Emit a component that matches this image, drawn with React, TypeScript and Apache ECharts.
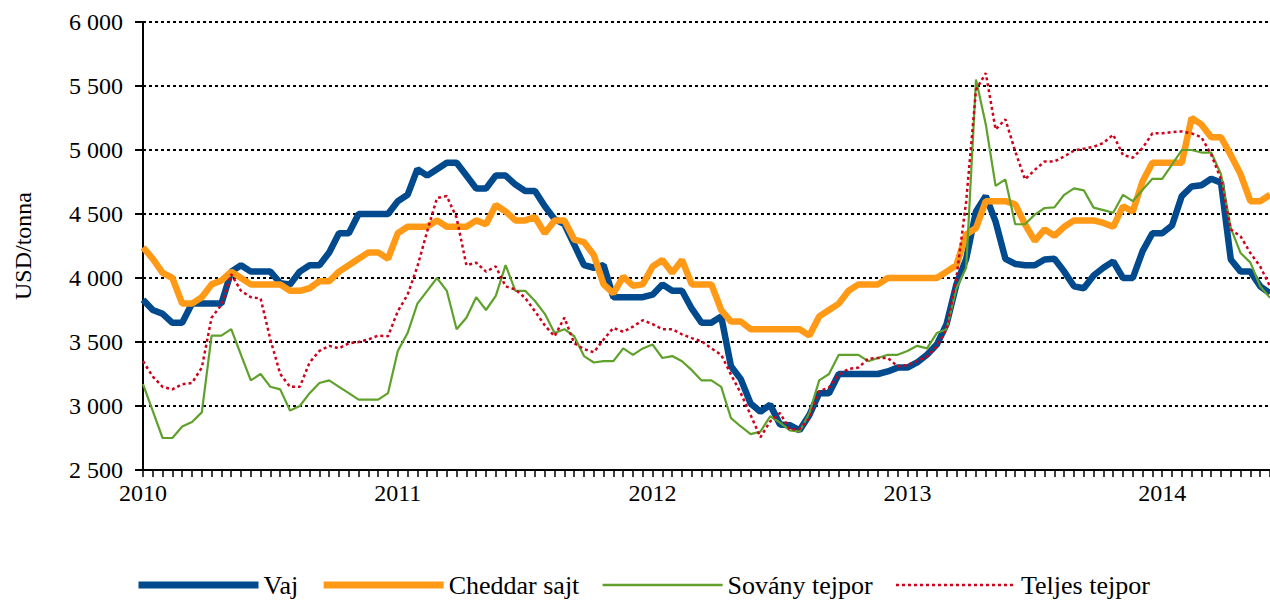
import React, { useEffect, useRef } from "react";
import * as echarts from "echarts";

const yearLabels = ["2010", "2011", "2012", "2013", "2014"];
const pointsPerYear = 26;

const seriesNames = ["Vaj", "Cheddar sajt", "Sovány tejpor", "Teljes tejpor"];

const vaj = [
  3830, 3750, 3720, 3650, 3650, 3800, 3800, 3800, 3800, 4050, 4100, 4050, 4050, 4050, 3960, 3950, 4050, 4100, 4100, 4200, 4350, 4350, 4500, 4500, 4500,
  4500, 4600, 4650, 4850, 4800, 4850, 4900, 4900, 4800, 4700, 4700, 4800, 4800, 4730, 4680, 4680, 4560, 4460, 4420, 4260, 4100, 4080, 4100, 3850, 3850,
  3850, 3850, 3870, 3950, 3900, 3900, 3760, 3650, 3650, 3700, 3310, 3210, 3020, 2955, 3010, 2855, 2850, 2810, 2930, 3100, 3100, 3250, 3250, 3250,
  3250, 3250, 3270, 3300, 3300, 3340, 3400, 3480, 3640, 3950, 4150, 4520, 4640, 4440, 4150, 4110, 4100, 4100, 4145, 4150, 4050, 3935, 3920, 4020, 4080, 4130,
  4000, 4000, 4210, 4350, 4350, 4410, 4640, 4715, 4725, 4775, 4745, 4145, 4050, 4050, 3935, 3880,
];

const cheddar = [
  4240, 4150, 4040, 4000, 3800, 3800, 3850, 3950, 3980, 4050, 4000, 3950, 3950, 3950, 3950, 3900, 3900, 3920, 3975, 3975, 4050, 4100, 4150, 4200, 4200,
  4150, 4350, 4400, 4400, 4400, 4450, 4400, 4400, 4400, 4450, 4420, 4570, 4520, 4450, 4450, 4475, 4350, 4450, 4450, 4300, 4280, 4180, 3950, 3880, 4010,
  3940, 3950, 4090, 4140, 4040, 4140, 3950, 3950, 3950, 3750, 3660, 3660, 3600, 3600, 3600, 3600, 3600, 3600, 3550, 3700, 3750, 3800, 3900, 3950,
  3950, 3950, 4000, 4000, 4000, 4000, 4000, 4000, 4050, 4100, 4340, 4390, 4600, 4600, 4600, 4575, 4420, 4290, 4380, 4330, 4400, 4450, 4450, 4450, 4430, 4400,
  4560, 4520, 4755, 4900, 4900, 4900, 4900, 5250, 5200, 5100, 5100, 4960, 4810, 4600, 4600, 4650,
];

const sovany = [
  3170, 2960, 2750, 2750, 2840, 2875, 2950, 3550, 3550, 3600, 3400, 3200, 3250, 3150, 3130, 2965, 3000, 3100, 3180, 3200, 3150, 3100, 3050, 3050, 3050,
  3100, 3430, 3570, 3800, 3900, 4000, 3900, 3600, 3690, 3850, 3750, 3860, 4100, 3900, 3900, 3820, 3720, 3570, 3600, 3545, 3390, 3340, 3350, 3350, 3450,
  3400, 3450, 3480, 3375, 3390, 3350, 3280, 3200, 3200, 3150, 2905, 2840, 2780, 2800, 2920, 2870, 2810, 2800, 2945, 3200, 3250, 3400, 3400, 3400,
  3350, 3375, 3400, 3400, 3430, 3470, 3450, 3570, 3600, 3920, 4080, 5550, 5200, 4720, 4770, 4420, 4420, 4495, 4547, 4552, 4650, 4700, 4685, 4550, 4530, 4510,
  4650, 4600, 4690, 4775, 4775, 4885, 5000, 5000, 4980, 4980, 4810, 4390, 4195, 4120, 3935, 3845,
];

const teljes = [
  3350, 3230, 3150, 3130, 3170, 3180, 3300, 3690, 3790, 4030, 3900, 3850, 3840, 3520, 3250, 3150, 3150, 3340, 3430, 3470, 3450, 3490, 3500, 3520, 3550,
  3545, 3740, 3870, 4090, 4365, 4625, 4640, 4470, 4100, 4120, 4050, 4090, 3935, 3910, 3844, 3740, 3630, 3545, 3690, 3490, 3445, 3420, 3520, 3610, 3580,
  3620, 3670, 3640, 3600, 3600, 3560, 3530, 3505, 3450, 3400, 3245, 3100, 2930, 2755, 2880, 2945, 2815, 2820, 2905, 3115, 3145, 3245, 3290, 3300,
  3370, 3375, 3375, 3310, 3320, 3350, 3388, 3466, 3600, 4000, 4600, 5470, 5600, 5160, 5240, 4990, 4770, 4845, 4910, 4910, 4950, 4995, 5010, 5025, 5055, 5120,
  4960, 4940, 5015, 5130, 5130, 5140, 5145, 5130, 5100, 4965, 4770, 4380, 4325, 4195, 4090, 3935,
];

const categories = vaj.map(
  (_, i) => `${yearLabels[Math.floor(i / pointsPerYear)]}-${(i % pointsPerYear) + 1}`
);

const FONT = '"Liberation Serif", "Times New Roman", serif';

const colors = ["#004A8D", "#FF9916", "#5FA12B", "#D0021B"];
const widths = [6.5, 6.5, 2.2, 2.5];

function fmt(v: number) {
  return String(v).replace(/\B(?=(\d{3})+(?!\d))/g, " ");
}

export default function App() {
  const ref = useRef<HTMLDivElement>(null);
  useEffect(() => {
    if (!ref.current) return;
    const chart = echarts.init(ref.current, undefined, { renderer: "svg" });
    chart.setOption({
      animation: false,
      backgroundColor: "#ffffff",
      grid: { left: 143, right: 0, top: 22, bottom: 132, containLabel: false },
      legend: {
        left: 135,
        top: 572,
        padding: 0,
        itemWidth: 120,
        itemHeight: 14,
        itemGap: 22,
        itemStyle: { opacity: 0 },
        textStyle: { fontFamily: FONT, fontSize: 26, color: "#000" },
        data: seriesNames.map((name, i) => ({
          name,
          itemStyle: { opacity: 0 },
          lineStyle: {
            width: i < 2 ? 7 : 2.5,
            color: colors[i],
            type: i === 3 ? [3, 3] : "solid",
          },
        })),
      },
      xAxis: {
        type: "category",
        data: categories,
        boundaryGap: false,
        axisLine: { lineStyle: { color: "#000", width: 2 } },
        axisTick: { show: true, interval: 0, length: 7, lineStyle: { color: "#000", width: 1.5 } },
        axisLabel: {
          interval: (i: number) => i % pointsPerYear === 0,
          formatter: (v: string) => v.split("-")[0],
          fontFamily: FONT,
          fontSize: 24,
          color: "#000",
          margin: 11,
        },
        splitLine: { show: false },
      },
      yAxis: {
        type: "value",
        min: 2500,
        max: 6000,
        interval: 500,
        name: "USD/tonna",
        nameLocation: "middle",
        nameRotate: 90,
        nameGap: 108,
        nameTextStyle: { fontFamily: FONT, fontSize: 24, color: "#000" },
        axisLine: { show: true, lineStyle: { color: "#000", width: 2 } },
        axisTick: { show: true, length: 8, lineStyle: { color: "#000", width: 2 } },
        axisLabel: {
          formatter: (v: number) => fmt(v),
          fontFamily: FONT,
          fontSize: 24,
          color: "#000",
          margin: 20,
        },
        splitLine: { show: true, lineStyle: { color: "#000", width: 2, type: [3, 3] } },
      },
      series: [vaj, cheddar, sovany, teljes].map((data, i) => ({
        name: seriesNames[i],
        type: "line",
        data,
        symbol: "none",
        color: colors[i],
        lineStyle: { width: widths[i], color: colors[i], type: i === 3 ? [3, 3] : "solid" },
      })),
    });
    return () => chart.dispose();
  }, []);
  return (
    <div
      ref={ref}
      style={{ position: "fixed", left: 0, top: 0, width: 1270, height: 602, background: "#fff" }}
    />
  );
}
